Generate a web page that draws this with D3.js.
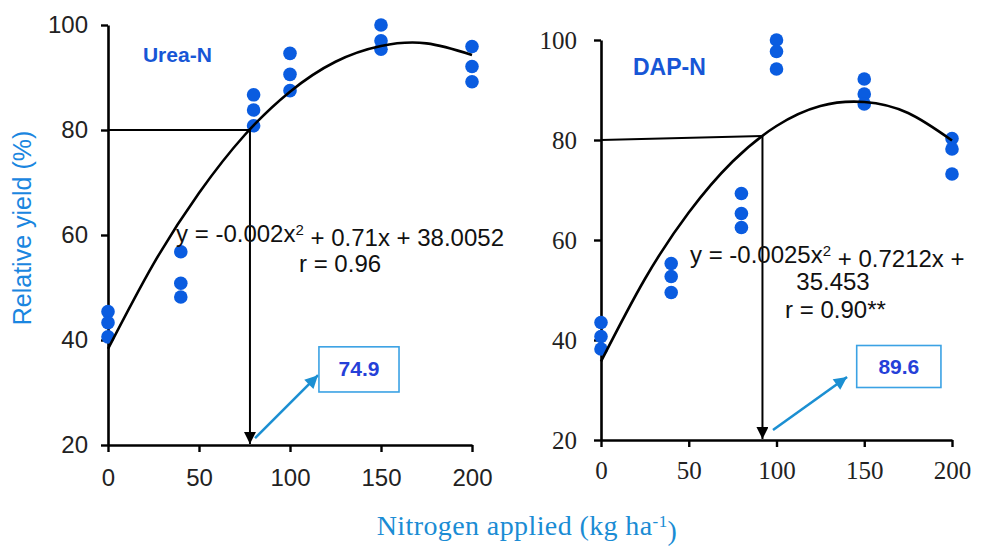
<!DOCTYPE html>
<html>
<head>
<meta charset="utf-8">
<script src="https://cdn.jsdelivr.net/npm/d3@7"></script>
<style>
   body { margin: 0; background: #fff; }
   svg { display: block; }
</style>
</head>
<body>
<div id="chart"></div>
<script>
// N rates (kg/ha) and the three replicate yields read at each rate
const rates = [0, 40, 80, 100, 150, 200]
const ureaYield = [[45.4, 43.3, 40.6], [56.8, 50.8, 48.2], [86.7, 83.8, 80.8], [94.6, 90.6, 87.5], [100, 97.0, 95.4], [95.9, 92.1, 89.2]]
const dapYield = [[43.5, 40.7, 38.2], [55.3, 52.7, 49.5], [69.3, 65.3, 62.5], [100, 97.7, 94.2], [92.2, 89.2, 87.2], [80.3, 78.2, 73.2]]

// fitted curves
const curveX = [0, 25, 50, 75, 100, 125, 150, 175, 200]
const ureaCurve = [38.3, 54.5, 68.0, 79.0, 87.3, 93.0, 96.0, 96.5, 94.3]
const dapCurve = [35.7, 52.2, 65.5, 75.7, 82.8, 86.8, 87.6, 85.4, 79.9]

const xTicks = [0, 50, 100, 150, 200]
const yTicks = [20, 40, 60, 80, 100]

// optimum projection: [x at 80% yield, yield at the y axis, yield at optimum]
const ureaOpt = [78, 80, 80]
const dapOpt = [92, 80, 80.8]
const ureaNote = '74.9'
const dapNote = '89.6'

const width = 982
const height = 549
const sans = 'Arial, "Liberation Sans", Helvetica, sans-serif'
const serif = '"Palatino Linotype", "Book Antiqua", Palatino, "Liberation Serif", serif'

const svg = d3.select('#chart').append('svg').attr('width', width).attr('height', height)

const defs = svg.append('defs')
defs.append('marker')
   .attr('id', 'headBlack')
   .attr('viewBox', '0 0 10 10')
   .attr('refX', 10).attr('refY', 5)
   .attr('markerWidth', 12).attr('markerHeight', 12)
   .attr('markerUnits', 'userSpaceOnUse')
   .attr('orient', 'auto')
   .append('path').attr('d', 'M0,0L10,5L0,10Z').attr('fill', '#000')
defs.append('marker')
   .attr('id', 'headBlue')
   .attr('viewBox', '0 0 10 10')
   .attr('refX', 10).attr('refY', 5)
   .attr('markerWidth', 15).attr('markerHeight', 13)
   .attr('markerUnits', 'userSpaceOnUse')
   .attr('orient', 'auto')
   .append('path').attr('d', 'M0,0L10,5L0,10Z').attr('fill', '#1b8fd2')

const panels = [
   {
      name: 'Urea-N', nameSize: 21, nameAt: [19.2, 93],
      xRange: [108, 472], yRange: [445, 25],
      tickFont: sans, tickSize: 24, yPad: 13, xPad: 17,
      yields: ureaYield, curve: ureaCurve, opt: ureaOpt,
      eq: [['y = -0.002x', '2', ' + 0.71x + 38.0052']], eqAt: [37.4, 58.7], eqAnchor: 'start',
      rLines: [['r = 0.96', 127.5, 52.95]],
      arrow: [[80.8, 21.3], [115.4, 33.3]],
      box: [115.9, 38.7, 159.9, 30.1], note: ureaNote,
   },
   {
      name: 'DAP-N', nameSize: 23, nameAt: [18.2, 93],
      xRange: [601, 952], yRange: [440, 40],
      tickFont: serif, tickSize: 25, yPad: 17, xPad: 14,
      yields: dapYield, curve: dapCurve, opt: dapOpt,
      eq: [['y = -0.0025x', '2', ' + 0.7212x +']], eqAt: [50.7, 55.4], eqAnchor: 'start',
      rLines: [['35.453', 132.2, 50], ['r = 0.90**', 133.6, 44.4]],
      arrow: [[98, 22], [140.2, 32.6]],
      box: [145.7, 38.9, 193.7, 30.5], note: dapNote,
   },
]

panels.forEach(p => {
   const x = d3.scaleLinear().domain([0, 200]).range(p.xRange)
   const y = d3.scaleLinear().domain([20, 100]).range(p.yRange)
   const g = svg.append('g')

   // axes
   const yAxis = g.append('g')
      .attr('transform', `translate(${p.xRange[0]},0)`)
      .call(d3.axisLeft(y).tickValues(yTicks).tickSize(7).tickPadding(p.yPad).tickSizeOuter(0))
   const xAxis = g.append('g')
      .attr('transform', `translate(0,${p.yRange[0]})`)
      .call(d3.axisBottom(x).tickValues(xTicks).tickSize(7).tickPadding(p.xPad).tickSizeOuter(0))
   ;[yAxis, xAxis].forEach(a => {
      a.select('.domain').attr('stroke', '#000').attr('stroke-width', 2.6)
      a.selectAll('.tick line').attr('stroke', '#000').attr('stroke-width', 2.4)
      a.selectAll('.tick text')
         .attr('fill', '#222')
         .style('font-family', p.tickFont)
         .style('font-size', p.tickSize + 'px')
   })

   // replicate points
   const pts = []
   rates.forEach((r, i) => p.yields[i].forEach(v => pts.push([r, v])))
   g.append('g').selectAll('circle')
      .data(pts)
      .enter()
      .append('circle')
      .attr('cx', d => x(d[0]))
      .attr('cy', d => y(d[1]))
      .attr('r', 6.8)
      .attr('fill', '#0a5ce0')

   // fitted curve
   const line = d3.line().x(d => x(d[0])).y(d => y(d[1])).curve(d3.curveNatural)
   g.append('path')
      .datum(curveX.map((cx, i) => [cx, p.curve[i]]))
      .attr('d', line)
      .attr('fill', 'none')
      .attr('stroke', '#000')
      .attr('stroke-width', 2.6)

   // projection to the optimum N rate
   const [ox, y0, y1] = p.opt
   g.append('line')
      .attr('x1', x(0)).attr('y1', y(y0))
      .attr('x2', x(ox)).attr('y2', y(y1))
      .attr('stroke', '#000').attr('stroke-width', 2)
   g.append('line')
      .attr('x1', x(ox)).attr('y1', y(y1))
      .attr('x2', x(ox)).attr('y2', y(20) - 1)
      .attr('stroke', '#000').attr('stroke-width', 2)
      .attr('marker-end', 'url(#headBlack)')

   // blue pointer and value box
   g.append('line')
      .attr('x1', x(p.arrow[0][0])).attr('y1', y(p.arrow[0][1]))
      .attr('x2', x(p.arrow[1][0])).attr('y2', y(p.arrow[1][1]))
      .attr('stroke', '#1b8fd2').attr('stroke-width', 2.6)
      .attr('marker-end', 'url(#headBlue)')
   const [bx0, by0, bx1, by1] = p.box
   g.append('rect')
      .attr('x', x(bx0)).attr('y', y(by0))
      .attr('width', x(bx1) - x(bx0)).attr('height', y(by1) - y(by0))
      .attr('fill', '#fff').attr('stroke', '#3ba2e4').attr('stroke-width', 1.6)
   g.append('text')
      .attr('x', (x(bx0) + x(bx1)) / 2)
      .attr('y', (y(by0) + y(by1)) / 2 + 7)
      .attr('text-anchor', 'middle')
      .style('font-family', sans).style('font-size', '21px').style('font-weight', 'bold')
      .attr('fill', '#2540d8')
      .text(p.note)

   // panel name
   g.append('text')
      .attr('x', x(p.nameAt[0])).attr('y', y(p.nameAt[1]))
      .style('font-family', sans).style('font-size', p.nameSize + 'px').style('font-weight', 'bold')
      .attr('fill', '#1756d6')
      .text(p.name)

   // regression equation
   const eq = g.append('text')
      .attr('x', x(p.eqAt[0])).attr('y', y(p.eqAt[1]))
      .attr('text-anchor', p.eqAnchor)
      .style('font-family', sans).style('font-size', '24px')
      .attr('fill', '#111')
   p.eq.forEach(parts => {
      eq.append('tspan').text(parts[0])
      eq.append('tspan').attr('dy', '-0.45em').style('font-size', '15px').text(parts[1])
      eq.append('tspan').attr('dy', '0.45em').text(parts[2])
   })
   p.rLines.forEach(([t, tx, ty]) => {
      g.append('text')
         .attr('x', x(tx)).attr('y', y(ty))
         .attr('text-anchor', 'middle')
         .style('font-family', sans).style('font-size', '24px')
         .attr('fill', '#111')
         .text(t)
   })
})

// shared axis titles
svg.append('text')
   .attr('transform', 'translate(31,228) rotate(-90)')
   .attr('text-anchor', 'middle')
   .style('font-family', sans).style('font-size', '25px')
   .attr('fill', '#1a86e0')
   .text('Relative yield (%)')

const xt = svg.append('text')
   .attr('x', 527).attr('y', 535)
   .attr('text-anchor', 'middle')
   .style('font-family', serif).style('font-size', '28px').style('letter-spacing', '0.4px')
   .attr('fill', '#1a8cd4')
xt.append('tspan').text('Nitrogen applied (kg ha')
xt.append('tspan').attr('dy', '-0.45em').style('font-size', '17px').text('-1')
xt.append('tspan').attr('dy', '0.45em').text(')')
</script>
</body>
</html>
